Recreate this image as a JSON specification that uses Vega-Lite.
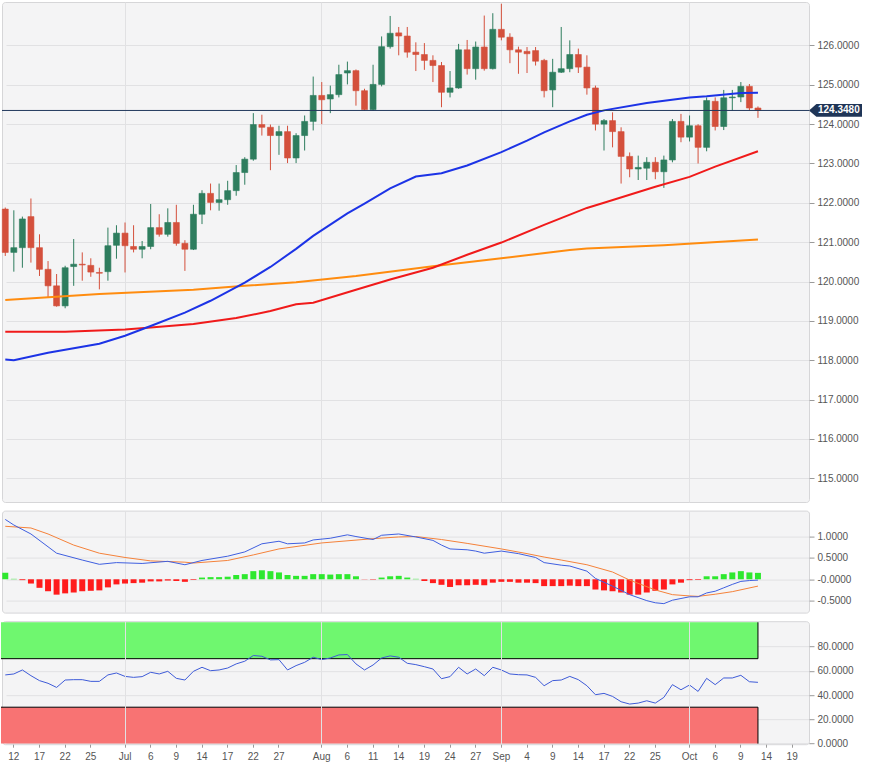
{
  "$schema": "https://vega.github.io/schema/vega-lite/v6.json",
  "description": "EUR/JPY daily candles with moving averages, MACD and RSI",
  "background": "white",
  "padding": {"left": 0, "top": 1, "right": 0, "bottom": 0},
  "spacing": 6.6,
  "datasets": {
    "candles": [
      {"date":"2020-06-11","open":121.84,"high":121.88,"low":120.65,"close":120.74,"hist":0.15,"rsi":56.6},
      {"date":"2020-06-12","open":120.74,"high":121.81,"low":120.25,"close":120.86,"hist":0.01,"rsi":57.4},
      {"date":"2020-06-15","open":120.86,"high":121.65,"low":120.35,"close":121.59,"hist":-0.02,"rsi":60.7},
      {"date":"2020-06-16","open":121.65,"high":122.11,"low":120.48,"close":120.86,"hist":-0.10,"rsi":56.0},
      {"date":"2020-06-17","open":120.86,"high":121.20,"low":120.14,"close":120.31,"hist":-0.20,"rsi":51.9},
      {"date":"2020-06-18","open":120.31,"high":120.52,"low":119.59,"close":119.89,"hist":-0.28,"rsi":49.7},
      {"date":"2020-06-19","open":119.89,"high":120.19,"low":119.36,"close":119.38,"hist":-0.36,"rsi":46.3},
      {"date":"2020-06-22","open":119.38,"high":120.40,"low":119.32,"close":120.35,"hist":-0.33,"rsi":52.4},
      {"date":"2020-06-23","open":120.38,"high":121.08,"low":119.89,"close":120.44,"hist":-0.31,"rsi":52.7},
      {"date":"2020-06-24","open":120.44,"high":120.74,"low":120.02,"close":120.42,"hist":-0.28,"rsi":52.7},
      {"date":"2020-06-25","open":120.41,"high":120.59,"low":120.12,"close":120.24,"hist":-0.27,"rsi":51.3},
      {"date":"2020-06-26","open":120.23,"high":120.35,"low":119.80,"close":120.21,"hist":-0.26,"rsi":51.3},
      {"date":"2020-06-29","open":120.25,"high":121.37,"low":120.02,"close":120.91,"hist":-0.19,"rsi":56.6},
      {"date":"2020-06-30","open":120.92,"high":121.43,"low":120.58,"close":121.23,"hist":-0.12,"rsi":58.2},
      {"date":"2020-07-01","open":121.23,"high":121.50,"low":120.23,"close":120.91,"hist":-0.10,"rsi":55.4},
      {"date":"2020-07-02","open":120.89,"high":121.43,"low":120.74,"close":120.82,"hist":-0.09,"rsi":54.6},
      {"date":"2020-07-03","open":120.82,"high":121.03,"low":120.59,"close":120.89,"hist":-0.08,"rsi":55.2},
      {"date":"2020-07-06","open":120.89,"high":121.97,"low":120.82,"close":121.37,"hist":-0.05,"rsi":58.8},
      {"date":"2020-07-07","open":121.37,"high":121.71,"low":121.14,"close":121.20,"hist":-0.05,"rsi":57.4},
      {"date":"2020-07-08","open":121.20,"high":121.86,"low":121.14,"close":121.50,"hist":-0.03,"rsi":59.6},
      {"date":"2020-07-09","open":121.50,"high":121.95,"low":120.91,"close":120.97,"hist":-0.04,"rsi":53.8},
      {"date":"2020-07-10","open":120.97,"high":121.05,"low":120.27,"close":120.82,"hist":-0.06,"rsi":52.4},
      {"date":"2020-07-13","open":120.82,"high":121.95,"low":120.80,"close":121.71,"hist":-0.015,"rsi":59.6},
      {"date":"2020-07-14","open":121.71,"high":122.32,"low":121.46,"close":122.24,"hist":0.04,"rsi":62.9},
      {"date":"2020-07-15","open":122.24,"high":122.49,"low":121.81,"close":122.01,"hist":0.05,"rsi":60.1},
      {"date":"2020-07-16","open":122.01,"high":122.49,"low":121.80,"close":122.08,"hist":0.05,"rsi":60.7},
      {"date":"2020-07-17","open":122.08,"high":122.56,"low":121.95,"close":122.31,"hist":0.06,"rsi":62.3},
      {"date":"2020-07-20","open":122.31,"high":122.96,"low":122.18,"close":122.77,"hist":0.10,"rsi":65.7},
      {"date":"2020-07-21","open":122.77,"high":123.16,"low":122.46,"close":123.11,"hist":0.12,"rsi":67.9},
      {"date":"2020-07-22","open":123.11,"high":124.28,"low":123.07,"close":123.99,"hist":0.19,"rsi":72.6},
      {"date":"2020-07-23","open":123.99,"high":124.24,"low":123.71,"close":123.92,"hist":0.21,"rsi":72.0},
      {"date":"2020-07-24","open":123.92,"high":123.99,"low":122.83,"close":123.71,"hist":0.19,"rsi":69.0},
      {"date":"2020-07-27","open":123.71,"high":123.96,"low":123.22,"close":123.81,"hist":0.16,"rsi":69.2},
      {"date":"2020-07-28","open":123.81,"high":123.96,"low":123.01,"close":123.14,"hist":0.10,"rsi":60.7},
      {"date":"2020-07-29","open":123.14,"high":123.77,"low":123.01,"close":123.71,"hist":0.08,"rsi":64.3},
      {"date":"2020-07-30","open":123.71,"high":124.22,"low":123.33,"close":124.07,"hist":0.08,"rsi":67.0},
      {"date":"2020-07-31","open":124.07,"high":125.21,"low":123.84,"close":124.73,"hist":0.12,"rsi":71.2},
      {"date":"2020-08-03","open":124.73,"high":125.07,"low":124.00,"close":124.62,"hist":0.12,"rsi":69.2},
      {"date":"2020-08-04","open":124.64,"high":124.98,"low":124.28,"close":124.75,"hist":0.11,"rsi":70.6},
      {"date":"2020-08-05","open":124.75,"high":125.51,"low":124.68,"close":125.26,"hist":0.12,"rsi":73.1},
      {"date":"2020-08-06","open":125.30,"high":125.59,"low":125.01,"close":125.36,"hist":0.12,"rsi":73.4},
      {"date":"2020-08-07","open":125.36,"high":125.39,"low":124.47,"close":124.85,"hist":0.07,"rsi":65.7},
      {"date":"2020-08-10","open":124.85,"high":124.90,"low":124.34,"close":124.37,"hist":-0.005,"rsi":60.7},
      {"date":"2020-08-11","open":124.37,"high":125.51,"low":124.34,"close":125.01,"hist":-0.01,"rsi":64.8},
      {"date":"2020-08-12","open":125.01,"high":126.23,"low":124.96,"close":125.97,"hist":0.04,"rsi":70.6},
      {"date":"2020-08-13","open":125.97,"high":126.75,"low":125.92,"close":126.31,"hist":0.07,"rsi":72.3},
      {"date":"2020-08-14","open":126.32,"high":126.47,"low":125.75,"close":126.24,"hist":0.08,"rsi":71.2},
      {"date":"2020-08-17","open":126.24,"high":126.47,"low":125.69,"close":125.83,"hist":0.04,"rsi":66.2},
      {"date":"2020-08-18","open":125.83,"high":126.08,"low":125.35,"close":125.77,"hist":0.01,"rsi":65.1},
      {"date":"2020-08-19","open":125.77,"high":126.06,"low":125.38,"close":125.62,"hist":-0.04,"rsi":63.4},
      {"date":"2020-08-20","open":125.62,"high":125.75,"low":125.07,"close":125.49,"hist":-0.09,"rsi":61.5},
      {"date":"2020-08-21","open":125.49,"high":125.58,"low":124.43,"close":124.81,"hist":-0.13,"rsi":53.5},
      {"date":"2020-08-24","open":124.81,"high":125.35,"low":124.68,"close":124.92,"hist":-0.18,"rsi":55.2},
      {"date":"2020-08-25","open":124.92,"high":126.04,"low":124.90,"close":125.89,"hist":-0.14,"rsi":62.9},
      {"date":"2020-08-26","open":125.89,"high":126.14,"low":125.26,"close":125.41,"hist":-0.14,"rsi":57.4},
      {"date":"2020-08-27","open":125.41,"high":126.10,"low":125.13,"close":125.96,"hist":-0.13,"rsi":61.5},
      {"date":"2020-08-28","open":125.96,"high":126.76,"low":125.36,"close":125.41,"hist":-0.14,"rsi":56.0},
      {"date":"2020-08-31","open":125.41,"high":126.82,"low":125.39,"close":126.41,"hist":-0.08,"rsi":62.9},
      {"date":"2020-09-01","open":126.41,"high":127.06,"low":126.13,"close":126.21,"hist":-0.06,"rsi":60.7},
      {"date":"2020-09-02","open":126.21,"high":126.31,"low":125.55,"close":125.89,"hist":-0.06,"rsi":57.4},
      {"date":"2020-09-03","open":125.89,"high":125.97,"low":125.28,"close":125.83,"hist":-0.08,"rsi":56.8},
      {"date":"2020-09-04","open":125.85,"high":125.96,"low":125.30,"close":125.79,"hist":-0.08,"rsi":56.6},
      {"date":"2020-09-07","open":125.87,"high":125.96,"low":125.49,"close":125.60,"hist":-0.09,"rsi":54.6},
      {"date":"2020-09-08","open":125.62,"high":125.66,"low":124.68,"close":124.85,"hist":-0.16,"rsi":47.7},
      {"date":"2020-09-09","open":124.87,"high":125.66,"low":124.43,"close":125.32,"hist":-0.16,"rsi":51.9},
      {"date":"2020-09-10","open":125.32,"high":126.47,"low":125.30,"close":125.41,"hist":-0.16,"rsi":52.4},
      {"date":"2020-09-11","open":125.41,"high":126.13,"low":125.32,"close":125.77,"hist":-0.15,"rsi":55.4},
      {"date":"2020-09-14","open":125.77,"high":125.92,"low":125.30,"close":125.45,"hist":-0.16,"rsi":52.7},
      {"date":"2020-09-15","open":125.45,"high":125.75,"low":124.75,"close":124.92,"hist":-0.16,"rsi":47.7},
      {"date":"2020-09-16","open":124.92,"high":124.98,"low":123.84,"close":124.00,"hist":-0.24,"rsi":40.3},
      {"date":"2020-09-17","open":124.00,"high":124.13,"low":123.33,"close":124.09,"hist":-0.26,"rsi":41.4},
      {"date":"2020-09-18","open":124.09,"high":124.30,"low":123.41,"close":123.81,"hist":-0.28,"rsi":38.9},
      {"date":"2020-09-21","open":123.81,"high":123.92,"low":122.49,"close":123.18,"hist":-0.31,"rsi":34.5},
      {"date":"2020-09-22","open":123.18,"high":123.28,"low":122.65,"close":122.86,"hist":-0.36,"rsi":32.6},
      {"date":"2020-09-23","open":122.86,"high":123.20,"low":122.58,"close":122.90,"hist":-0.36,"rsi":33.4},
      {"date":"2020-09-24","open":122.88,"high":123.16,"low":122.58,"close":123.03,"hist":-0.31,"rsi":35.3},
      {"date":"2020-09-25","open":123.03,"high":123.16,"low":122.60,"close":122.79,"hist":-0.27,"rsi":33.4},
      {"date":"2020-09-28","open":122.79,"high":123.20,"low":122.38,"close":123.09,"hist":-0.24,"rsi":38.1},
      {"date":"2020-09-29","open":123.09,"high":124.13,"low":123.03,"close":124.07,"hist":-0.12,"rsi":48.6},
      {"date":"2020-09-30","open":124.07,"high":124.26,"low":123.54,"close":123.67,"hist":-0.08,"rsi":44.4},
      {"date":"2020-10-01","open":123.67,"high":124.22,"low":123.56,"close":123.96,"hist":-0.02,"rsi":48.3},
      {"date":"2020-10-02","open":123.96,"high":124.00,"low":123.00,"close":123.41,"hist":-0.015,"rsi":43.0},
      {"date":"2020-10-05","open":123.41,"high":124.68,"low":123.31,"close":124.60,"hist":0.07,"rsi":53.8},
      {"date":"2020-10-06","open":124.58,"high":124.68,"low":123.84,"close":123.94,"hist":0.07,"rsi":48.6},
      {"date":"2020-10-07","open":123.94,"high":124.87,"low":123.85,"close":124.67,"hist":0.12,"rsi":54.1},
      {"date":"2020-10-08","open":124.67,"high":124.87,"low":124.34,"close":124.69,"hist":0.16,"rsi":54.1},
      {"date":"2020-10-09","open":124.69,"high":125.07,"low":124.56,"close":124.96,"hist":0.19,"rsi":56.3},
      {"date":"2020-10-12","open":124.96,"high":125.02,"low":124.34,"close":124.41,"hist":0.16,"rsi":51.0},
      {"date":"2020-10-13","open":124.41,"high":124.45,"low":124.16,"close":124.348,"hist":0.15,"rsi":50.5}
    ],
    "ma50": [
      {"date":"2020-06-11","value":118.02},{"date":"2020-06-12","value":118.00},{"date":"2020-06-18","value":118.19},
      {"date":"2020-06-26","value":118.42},{"date":"2020-07-01","value":118.62},{"date":"2020-07-06","value":118.87},
      {"date":"2020-07-10","value":119.21},{"date":"2020-07-15","value":119.51},{"date":"2020-07-21","value":119.97},
      {"date":"2020-07-24","value":120.37},{"date":"2020-07-29","value":120.83},{"date":"2020-07-31","value":121.16},
      {"date":"2020-08-06","value":121.73},{"date":"2020-08-10","value":121.98},{"date":"2020-08-13","value":122.37},
      {"date":"2020-08-18","value":122.67},{"date":"2020-08-21","value":122.75},{"date":"2020-08-26","value":122.95},
      {"date":"2020-09-01","value":123.29},{"date":"2020-09-04","value":123.58},{"date":"2020-09-08","value":123.79},
      {"date":"2020-09-11","value":124.07},{"date":"2020-09-15","value":124.24},{"date":"2020-09-17","value":124.35},
      {"date":"2020-09-24","value":124.54},{"date":"2020-10-01","value":124.68},{"date":"2020-10-05","value":124.71},
      {"date":"2020-10-09","value":124.79},{"date":"2020-10-13","value":124.80}
    ],
    "ma100": [
      {"date":"2020-06-11","value":118.72},{"date":"2020-06-22","value":118.72},{"date":"2020-07-01","value":118.78},
      {"date":"2020-07-06","value":118.83},{"date":"2020-07-13","value":118.92},{"date":"2020-07-20","value":119.07},
      {"date":"2020-07-24","value":119.25},{"date":"2020-07-29","value":119.42},{"date":"2020-07-31","value":119.46},
      {"date":"2020-08-07","value":119.79},{"date":"2020-08-13","value":120.05},{"date":"2020-08-20","value":120.35},
      {"date":"2020-08-26","value":120.68},{"date":"2020-09-01","value":120.99},{"date":"2020-09-08","value":121.44},
      {"date":"2020-09-15","value":121.87},{"date":"2020-09-17","value":122.00},{"date":"2020-09-25","value":122.41},
      {"date":"2020-10-01","value":122.66},{"date":"2020-10-06","value":122.92},{"date":"2020-10-13","value":123.31}
    ],
    "ma200": [
      {"date":"2020-06-11","value":119.53},{"date":"2020-06-26","value":119.68},{"date":"2020-07-13","value":119.79},
      {"date":"2020-07-21","value":119.89},{"date":"2020-07-29","value":119.98},{"date":"2020-08-07","value":120.14},
      {"date":"2020-08-20","value":120.39},{"date":"2020-09-01","value":120.59},{"date":"2020-09-11","value":120.80},
      {"date":"2020-09-15","value":120.84},{"date":"2020-09-28","value":120.92},{"date":"2020-10-13","value":121.07}
    ],
    "macd": [
      {"date":"2020-06-11","value":1.40},{"date":"2020-06-12","value":1.27},{"date":"2020-06-16","value":1.06},
      {"date":"2020-06-19","value":0.61},{"date":"2020-06-24","value":0.45},{"date":"2020-06-26","value":0.35},
      {"date":"2020-06-30","value":0.39},{"date":"2020-07-03","value":0.37},{"date":"2020-07-08","value":0.42},
      {"date":"2020-07-10","value":0.34},{"date":"2020-07-14","value":0.44},{"date":"2020-07-17","value":0.54},
      {"date":"2020-07-21","value":0.64},{"date":"2020-07-23","value":0.83},{"date":"2020-07-27","value":0.89},
      {"date":"2020-07-28","value":0.83},{"date":"2020-07-30","value":0.85},{"date":"2020-07-31","value":0.92},
      {"date":"2020-08-04","value":0.96},{"date":"2020-08-06","value":1.04},{"date":"2020-08-07","value":1.00},
      {"date":"2020-08-11","value":0.93},{"date":"2020-08-12","value":1.03},{"date":"2020-08-14","value":1.06},
      {"date":"2020-08-18","value":0.99},{"date":"2020-08-20","value":0.91},{"date":"2020-08-21","value":0.80},
      {"date":"2020-08-24","value":0.71},{"date":"2020-08-26","value":0.69},{"date":"2020-08-27","value":0.66},
      {"date":"2020-08-28","value":0.61},{"date":"2020-09-01","value":0.66},{"date":"2020-09-03","value":0.60},
      {"date":"2020-09-07","value":0.51},{"date":"2020-09-08","value":0.39},{"date":"2020-09-10","value":0.33},
      {"date":"2020-09-11","value":0.31},{"date":"2020-09-15","value":0.19},{"date":"2020-09-16","value":0.02},
      {"date":"2020-09-18","value":-0.16},{"date":"2020-09-22","value":-0.36},{"date":"2020-09-24","value":-0.50},
      {"date":"2020-09-25","value":-0.55},{"date":"2020-09-28","value":-0.57},{"date":"2020-09-29","value":-0.49},
      {"date":"2020-09-30","value":-0.45},{"date":"2020-10-01","value":-0.41},{"date":"2020-10-02","value":-0.41},
      {"date":"2020-10-05","value":-0.32},{"date":"2020-10-06","value":-0.28},{"date":"2020-10-07","value":-0.20},
      {"date":"2020-10-08","value":-0.12},{"date":"2020-10-09","value":-0.05},{"date":"2020-10-12","value":-0.03},
      {"date":"2020-10-13","value":-0.02}
    ],
    "signal": [
      {"date":"2020-06-11","value":1.24},{"date":"2020-06-16","value":1.20},{"date":"2020-06-18","value":1.06},
      {"date":"2020-06-23","value":0.80},{"date":"2020-06-26","value":0.61},{"date":"2020-07-01","value":0.51},
      {"date":"2020-07-06","value":0.43},{"date":"2020-07-10","value":0.40},{"date":"2020-07-13","value":0.38},
      {"date":"2020-07-17","value":0.44},{"date":"2020-07-22","value":0.57},{"date":"2020-07-27","value":0.71},
      {"date":"2020-08-03","value":0.85},{"date":"2020-08-11","value":0.95},{"date":"2020-08-14","value":0.99},
      {"date":"2020-08-18","value":1.00},{"date":"2020-08-21","value":0.93},{"date":"2020-08-26","value":0.84},
      {"date":"2020-09-01","value":0.71},{"date":"2020-09-04","value":0.60},{"date":"2020-09-08","value":0.52},
      {"date":"2020-09-10","value":0.45},{"date":"2020-09-15","value":0.34},{"date":"2020-09-18","value":0.17},
      {"date":"2020-09-22","value":-0.02},{"date":"2020-09-25","value":-0.25},{"date":"2020-09-29","value":-0.36},
      {"date":"2020-10-01","value":-0.39},{"date":"2020-10-02","value":-0.40},{"date":"2020-10-06","value":-0.35},
      {"date":"2020-10-08","value":-0.29},{"date":"2020-10-13","value":-0.16}
    ],
    "zones": [
      {"zone":"overbought","start":"2020-06-11","end":"2020-10-13","lo":70,"hi":100,"edge":70},
      {"zone":"oversold","start":"2020-06-11","end":"2020-10-13","lo":0,"hi":30,"edge":30}
    ],
    "last": [
      {"date":"2020-10-13","close":124.348}
    ]
  },
  "vconcat": [
    {
      "width": 807,
      "height": 500,
      "layer": [
        {
          "data": {"name": "candles"},
          "mark": {"type": "rule", "strokeWidth": 1},
          "encoding": {
            "x": {
              "field": "date", "type": "ordinal", "title": null,
              "scale": {"domain": ["2020-06-11","2020-06-12","2020-06-15","2020-06-16","2020-06-17","2020-06-18","2020-06-19","2020-06-22","2020-06-23","2020-06-24","2020-06-25","2020-06-26","2020-06-29","2020-06-30","2020-07-01","2020-07-02","2020-07-03","2020-07-06","2020-07-07","2020-07-08","2020-07-09","2020-07-10","2020-07-13","2020-07-14","2020-07-15","2020-07-16","2020-07-17","2020-07-20","2020-07-21","2020-07-22","2020-07-23","2020-07-24","2020-07-27","2020-07-28","2020-07-29","2020-07-30","2020-07-31","2020-08-03","2020-08-04","2020-08-05","2020-08-06","2020-08-07","2020-08-10","2020-08-11","2020-08-12","2020-08-13","2020-08-14","2020-08-17","2020-08-18","2020-08-19","2020-08-20","2020-08-21","2020-08-24","2020-08-25","2020-08-26","2020-08-27","2020-08-28","2020-08-31","2020-09-01","2020-09-02","2020-09-03","2020-09-04","2020-09-07","2020-09-08","2020-09-09","2020-09-10","2020-09-11","2020-09-14","2020-09-15","2020-09-16","2020-09-17","2020-09-18","2020-09-21","2020-09-22","2020-09-23","2020-09-24","2020-09-25","2020-09-28","2020-09-29","2020-09-30","2020-10-01","2020-10-02","2020-10-05","2020-10-06","2020-10-07","2020-10-08","2020-10-09","2020-10-12","2020-10-13","2020-10-14","2020-10-15","2020-10-16","2020-10-19","2020-10-20"], "range": [-1, 803], "paddingInner": 0, "paddingOuter": 0},
              "axis": {"values": ["2020-07-01","2020-08-03","2020-09-01","2020-10-01"], "bandPosition": 0.5, "labels": false, "ticks": false, "domain": false, "grid": true, "minExtent": 0, "maxExtent": 0}
            },
            "y": {
              "field": "low", "type": "quantitative", "title": null,
              "scale": {"domain": [114.395, 127.105], "nice": false, "zero": false},
              "axis": {"orient": "right", "values": [115,116,117,118,119,120,121,122,123,124,125,126], "tickCount": 20, "format": ".4f", "grid": true, "tickSize": 5, "labelPadding": 3, "labelOverlap": false}
            },
            "y2": {"field": "high"},
            "color": {"condition": {"test": "datum.close >= datum.open", "value": "#2e7d5e"}, "value": "#d4503c"}
          }
        },
        {
          "data": {"name": "candles"},
          "mark": {"type": "bar", "width": {"band": 0.7}, "strokeWidth": 0.6},
          "encoding": {
            "x": {"field": "date", "type": "ordinal"},
            "y": {"field": "open", "type": "quantitative"},
            "y2": {"field": "close"},
            "fill": {"condition": {"test": "datum.close >= datum.open", "value": "#2e7d5e"}, "value": "#d4503c"},
            "stroke": {"condition": {"test": "datum.close >= datum.open", "value": "#2e7d5e"}, "value": "#d4503c"}
          }
        },
        {
          "data": {"name": "ma200"},
          "mark": {"type": "line", "color": "#ff8c0f", "strokeWidth": 2},
          "encoding": {
            "x": {"field": "date", "type": "ordinal"},
            "y": {"field": "value", "type": "quantitative"}
          }
        },
        {
          "data": {"name": "ma100"},
          "mark": {"type": "line", "color": "#f01a1a", "strokeWidth": 2},
          "encoding": {
            "x": {"field": "date", "type": "ordinal"},
            "y": {"field": "value", "type": "quantitative"}
          }
        },
        {
          "data": {"name": "ma50"},
          "mark": {"type": "line", "color": "#1c33e6", "strokeWidth": 2},
          "encoding": {
            "x": {"field": "date", "type": "ordinal"},
            "y": {"field": "value", "type": "quantitative"}
          }
        },
        {
          "data": {"name": "last"},
          "mark": {"type": "rule", "color": "#22395c", "strokeWidth": 1},
          "encoding": {
            "y": {"field": "close", "type": "quantitative"}
          }
        },
        {
          "data": {"name": "last"},
          "mark": {"type": "point", "shape": "M0,0L0.14,-0.12L1,-0.12L1,0.12L0.14,0.12Z", "size": 11236, "filled": true, "color": "#1f3557", "opacity": 1},
          "encoding": {
            "x": {"value": "width"},
            "y": {"field": "close", "type": "quantitative"}
          }
        },
        {
          "data": {"name": "last"},
          "mark": {"type": "text", "color": "white", "font": "Liberation Sans", "fontSize": 10, "fontWeight": "bold", "align": "left", "baseline": "middle", "dx": 9},
          "encoding": {
            "x": {"value": "width"},
            "y": {"field": "close", "type": "quantitative"},
            "text": {"field": "close", "type": "quantitative", "format": ".4f"}
          }
        }
      ]
    },
    {
      "width": 807,
      "height": 102,
      "layer": [
        {
          "data": {"name": "candles"},
          "mark": {"type": "bar", "width": {"band": 0.7}},
          "encoding": {
            "x": {
              "field": "date", "type": "ordinal", "title": null,
              "scale": {"domain": ["2020-06-11","2020-06-12","2020-06-15","2020-06-16","2020-06-17","2020-06-18","2020-06-19","2020-06-22","2020-06-23","2020-06-24","2020-06-25","2020-06-26","2020-06-29","2020-06-30","2020-07-01","2020-07-02","2020-07-03","2020-07-06","2020-07-07","2020-07-08","2020-07-09","2020-07-10","2020-07-13","2020-07-14","2020-07-15","2020-07-16","2020-07-17","2020-07-20","2020-07-21","2020-07-22","2020-07-23","2020-07-24","2020-07-27","2020-07-28","2020-07-29","2020-07-30","2020-07-31","2020-08-03","2020-08-04","2020-08-05","2020-08-06","2020-08-07","2020-08-10","2020-08-11","2020-08-12","2020-08-13","2020-08-14","2020-08-17","2020-08-18","2020-08-19","2020-08-20","2020-08-21","2020-08-24","2020-08-25","2020-08-26","2020-08-27","2020-08-28","2020-08-31","2020-09-01","2020-09-02","2020-09-03","2020-09-04","2020-09-07","2020-09-08","2020-09-09","2020-09-10","2020-09-11","2020-09-14","2020-09-15","2020-09-16","2020-09-17","2020-09-18","2020-09-21","2020-09-22","2020-09-23","2020-09-24","2020-09-25","2020-09-28","2020-09-29","2020-09-30","2020-10-01","2020-10-02","2020-10-05","2020-10-06","2020-10-07","2020-10-08","2020-10-09","2020-10-12","2020-10-13","2020-10-14","2020-10-15","2020-10-16","2020-10-19","2020-10-20"], "range": [-1, 803], "paddingInner": 0, "paddingOuter": 0},
              "axis": {"values": ["2020-07-01","2020-08-03","2020-09-01","2020-10-01"], "bandPosition": 0.5, "labels": false, "ticks": false, "domain": false, "grid": true, "minExtent": 0, "maxExtent": 0}
            },
            "y": {
              "field": "hist", "type": "quantitative", "title": null,
              "scale": {"domain": [-0.78, 1.607], "nice": false, "zero": false},
              "axis": {"orient": "right", "values": [-0.5, 0, 0.5, 1], "tickCount": 20, "labelExpr": "datum.value == 0 ? '-0.0000' : (datum.value < 0 ? '-' : '') + format(abs(datum.value), '.4f')", "grid": true, "tickSize": 5, "labelPadding": 3, "labelOverlap": false}
            },
            "y2": {"datum": 0},
            "color": {"condition": {"test": "datum.hist >= 0", "value": "#2ee82e"}, "value": "#ff1c1c"}
          }
        },
        {
          "data": {"name": "signal"},
          "mark": {"type": "line", "color": "#f5823a", "strokeWidth": 1},
          "encoding": {
            "x": {"field": "date", "type": "ordinal"},
            "y": {"field": "value", "type": "quantitative"}
          }
        },
        {
          "data": {"name": "macd"},
          "mark": {"type": "line", "color": "#3f5fe0", "strokeWidth": 1},
          "encoding": {
            "x": {"field": "date", "type": "ordinal"},
            "y": {"field": "value", "type": "quantitative"}
          }
        }
      ]
    },
    {
      "width": 807,
      "height": 123,
      "layer": [
        {
          "data": {"name": "zones"},
          "mark": {"type": "rect", "opacity": 1},
          "encoding": {
            "x": {
              "field": "start", "type": "ordinal", "title": null, "bandPosition": 0,
              "scale": {"domain": ["2020-06-11","2020-06-12","2020-06-15","2020-06-16","2020-06-17","2020-06-18","2020-06-19","2020-06-22","2020-06-23","2020-06-24","2020-06-25","2020-06-26","2020-06-29","2020-06-30","2020-07-01","2020-07-02","2020-07-03","2020-07-06","2020-07-07","2020-07-08","2020-07-09","2020-07-10","2020-07-13","2020-07-14","2020-07-15","2020-07-16","2020-07-17","2020-07-20","2020-07-21","2020-07-22","2020-07-23","2020-07-24","2020-07-27","2020-07-28","2020-07-29","2020-07-30","2020-07-31","2020-08-03","2020-08-04","2020-08-05","2020-08-06","2020-08-07","2020-08-10","2020-08-11","2020-08-12","2020-08-13","2020-08-14","2020-08-17","2020-08-18","2020-08-19","2020-08-20","2020-08-21","2020-08-24","2020-08-25","2020-08-26","2020-08-27","2020-08-28","2020-08-31","2020-09-01","2020-09-02","2020-09-03","2020-09-04","2020-09-07","2020-09-08","2020-09-09","2020-09-10","2020-09-11","2020-09-14","2020-09-15","2020-09-16","2020-09-17","2020-09-18","2020-09-21","2020-09-22","2020-09-23","2020-09-24","2020-09-25","2020-09-28","2020-09-29","2020-09-30","2020-10-01","2020-10-02","2020-10-05","2020-10-06","2020-10-07","2020-10-08","2020-10-09","2020-10-12","2020-10-13","2020-10-14","2020-10-15","2020-10-16","2020-10-19","2020-10-20"], "range": [-1, 803], "paddingInner": 0, "paddingOuter": 0},
              "axis": {
                "values": ["2020-06-12","2020-06-17","2020-06-22","2020-06-25","2020-07-01","2020-07-06","2020-07-09","2020-07-14","2020-07-17","2020-07-22","2020-07-27","2020-08-03","2020-08-06","2020-08-11","2020-08-14","2020-08-19","2020-08-24","2020-08-27","2020-09-01","2020-09-04","2020-09-09","2020-09-14","2020-09-17","2020-09-22","2020-09-25","2020-10-01","2020-10-06","2020-10-09","2020-10-14","2020-10-19"],
                "bandPosition": 0.5,
                "labelExpr": "datum.value == '2020-07-01' ? 'Jul' : datum.value == '2020-08-03' ? 'Aug' : datum.value == '2020-09-01' ? 'Sep' : datum.value == '2020-10-01' ? 'Oct' : '' + toNumber(substring(datum.value, 8, 10))",
                "labelAngle": 0, "labelOverlap": false, "ticks": true, "tickSize": 3, "labelPadding": 4, "domain": false, "grid": true,
                "gridOpacity": {"condition": {"test": "indexof(['2020-07-01','2020-08-03','2020-09-01','2020-10-01'], datum.value) >= 0", "value": 1}, "value": 0}
              }
            },
            "x2": {"field": "end"},
            "y": {
              "field": "hi", "type": "quantitative", "title": null,
              "scale": {"domain": [-0.5, 100.9], "nice": false, "zero": false},
              "axis": {"orient": "right", "values": [0, 20, 40, 60, 80], "tickCount": 20, "format": ".4f", "grid": true, "tickSize": 5, "labelPadding": 3, "labelOverlap": false}
            },
            "y2": {"field": "lo"},
            "color": {"field": "zone", "type": "nominal", "scale": {"domain": ["overbought", "oversold"], "range": ["#6ff76f", "#f87373"]}, "legend": null}
          }
        },
        {
          "data": {"name": "zones"},
          "mark": {"type": "rule", "color": "black", "strokeWidth": 1},
          "encoding": {
            "x": {"field": "start", "type": "ordinal", "bandPosition": 0},
            "x2": {"field": "end"},
            "y": {"field": "edge", "type": "quantitative"}
          }
        },
        {
          "data": {"name": "zones"},
          "mark": {"type": "rule", "color": "black", "strokeWidth": 1},
          "encoding": {
            "x": {"field": "end", "type": "ordinal"},
            "y": {"field": "lo", "type": "quantitative"},
            "y2": {"field": "hi"}
          }
        },
        {
          "data": {"name": "candles"},
          "mark": {"type": "line", "color": "#3e5bd8", "strokeWidth": 1},
          "encoding": {
            "x": {"field": "date", "type": "ordinal"},
            "y": {"field": "rsi", "type": "quantitative"}
          }
        }
      ]
    }
  ],
  "config": {
    "view": {"fill": "#f4f4f5", "stroke": "#d6d6d8", "cornerRadius": 3},
    "axis": {"labelFont": "Liberation Sans", "labelFontSize": 10, "labelColor": "#555555", "tickColor": "#9a9a9a", "gridColor": "#e1e1e3", "domain": false}
  }
}
